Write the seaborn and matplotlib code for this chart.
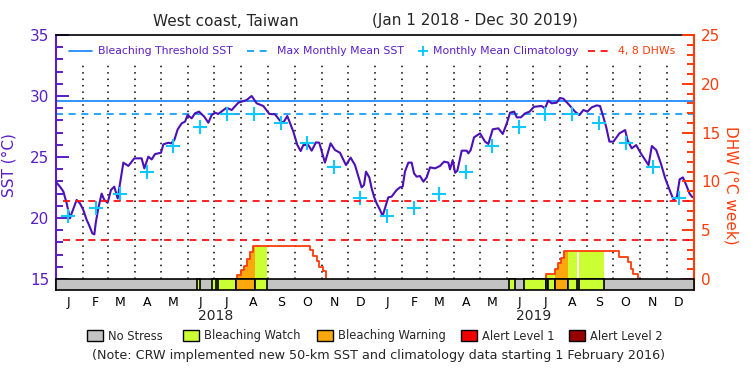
import numpy as np
import pandas as pd
import matplotlib
matplotlib.use('Agg')
import matplotlib.pyplot as plt
import seaborn as sns
from matplotlib.patches import Rectangle
from matplotlib.lines import Line2D

# Daily SST (days since 1 Jan 2018, deg C)
sst_days = [0, 4.3, 8.2, 12, 15.8, 17.7, 23.4, 27.2, 31, 34.9, 36.8, 41.4, 43.7, 45.2, 48.2, 52,
            55.1, 58.9, 62.7, 66.5, 70.4, 73, 76.9, 82.6, 89.5, 97.8, 100.9, 105.5, 109.3, 113.1,
            120, 122.7, 128.4, 131.5, 135.3, 139.1, 143.7, 147.5, 150.5, 155.1, 158.9, 163.5,
            169.6, 174.2, 178, 181.9, 185.6, 195.1, 200.9, 208.5, 218, 223.8, 229.5, 237.2, 244,
            250.5, 256.2, 260, 264.6, 271.5, 276.1, 279.9, 282.9, 288.6, 292.5, 297.4, 301.2,
            307.7, 314.2, 319.2, 324.9, 331.8, 337.1, 342.1, 349.7, 352.4, 354.7, 358.5, 361.2,
            364.2, 366.9, 370.7, 373.7, 376.4, 380.2, 384, 389.8, 393.6, 396.7, 399.3, 403.2,
            407, 409.7, 412.7, 416.5, 420.4, 424.2, 428, 433.7, 439.5, 444.1, 449, 450.9, 454,
            456.7, 459.3, 464.3, 470, 471.9, 474.6, 478.4, 485.3, 491, 494.8, 499.8, 506.3,
            511.3, 515.9, 519.7, 524.3, 527.4, 532, 537, 542, 547, 555.8, 559.6, 563.4, 567.3,
            573, 576.8, 580.6, 587.5, 594, 599, 603.6, 608.2, 613.1, 618.9, 622.7, 625.8, 629.6,
            633.4, 638, 644.9, 651.4, 654.1, 659, 664, 669.4, 678.2, 682, 687, 692.3, 697.3,
            702.3, 706.9, 710.7, 713.8, 717.6, 721.4, 725.2, 728.3]
sst_values = [22.93, 22.57, 22.17, 21.2, 19.97, 20.38, 21.48, 21.2, 20.67, 19.84, 19.56, 18.74,
              18.66, 19.56, 20.8, 22.0, 21.48, 21.25, 22.3, 22.57, 21.6, 22.8, 24.54, 24.27,
              24.89, 24.89, 24.07, 25.03, 24.8, 25.24, 25.35, 26.04, 26.17, 26.12, 26.4, 27.27,
              27.76, 27.9, 28.44, 28.17, 28.58, 28.72, 28.3, 27.81, 28.44, 28.63, 28.53, 29.04,
              28.85, 29.45, 29.67, 30.0, 29.4, 29.18, 28.53, 28.5, 27.98, 27.81, 28.36, 27.08,
              25.98, 25.49, 25.98, 25.98, 25.52, 26.2, 26.17, 24.54, 26.12, 25.57, 25.35, 24.34,
              24.95, 24.34, 22.51, 22.7, 23.8, 23.33, 22.43, 21.69, 21.2, 20.67, 20.16, 20.79,
              21.69, 21.75, 22.3, 22.51, 22.57, 23.8, 24.54, 24.54, 23.66, 23.39, 23.44, 22.98,
              23.33, 24.15, 24.07, 24.27, 24.62, 24.54, 23.99, 24.75, 23.71, 23.88, 25.52, 25.52,
              25.3, 25.57, 26.61, 26.94, 26.26, 26.07, 27.27, 27.35, 26.89, 27.76, 28.63, 28.72,
              28.25, 28.25, 28.58, 28.72, 29.12, 29.18, 28.99, 29.62, 29.4, 29.45, 29.84, 29.78,
              29.26, 28.72, 28.44, 28.85, 28.72, 29.07, 29.23, 29.18, 28.44, 27.49, 26.26, 26.26,
              26.94, 27.21, 26.39, 25.71, 25.98, 25.3, 24.34, 25.9, 25.57, 24.48, 23.25, 22.3,
              21.48, 21.75, 23.17, 23.33, 22.7, 21.99, 21.72]

# Monthly mean climatology (Jan..Dec), repeated for both years
month_letters = ['J', 'F', 'M', 'A', 'M', 'J', 'J', 'A', 'S', 'O', 'N', 'D']
clim_values = [20.19, 20.84, 21.94, 23.75, 25.93, 27.43, 28.5, 28.5, 27.76, 26.17, 24.2, 21.6]
mmm = 28.55
threshold = 29.55
dhw_levels = [4, 8]

# Degree heating weeks (step values)
dhw18_days = [206.6, 206.6, 211.2, 215, 218, 221.9, 224.9, 290.5, 294.4, 298.2, 301.3, 305.1, 309]
dhw18_values = [0, 0.41, 0.92, 1.36, 2.05, 2.8, 3.42, 2.97, 2.39, 1.84, 1.26, 0.82, 0]
dhw19_days = [560.8, 560.8, 571.1, 574.9, 578, 581.8, 644.8, 655.1, 658.1, 660.8, 666.5]
dhw19_values = [0, 0.48, 1.02, 1.61, 2.19, 2.87, 2.29, 1.78, 1.02, 0.48, 0]

# Bleaching alert status periods
seg_start = [161.2, 178.7, 184.9, 206.2, 228.0, 518.8, 536.0, 560.8, 563.5, 571.1, 585.6, 598.9]
seg_end = [164.6, 183.0, 206.2, 228.0, 241.7, 525.5, 560.8, 563.5, 571.1, 585.6, 595.9, 627.6]
seg_level = ['watch', 'watch', 'watch', 'warning', 'watch', 'watch', 'watch', 'watch', 'watch',
             'warning', 'watch', 'watch']

status_names = ['No Stress', 'Bleaching Watch', 'Bleaching Warning', 'Alert Level 1', 'Alert Level 2']
status_colors = {'none': '#c3c3c3', 'watch': '#ccff33', 'warning': '#fba80f',
                 'alert1': '#ee0000', 'alert2': '#990000'}

purple = '#5a1ec8'
orange_red = '#ff3c0a'
dash = (0, (3.9, 3.1))

sns.set_theme(style='white')
plt.rcParams['font.family'] = ['DejaVu Sans']

start = pd.Timestamp('2018-01-01')
month_starts = pd.date_range('2018-02-01', '2019-12-01', freq='MS')
month_start_days = (month_starts - start).days.values
mids = pd.date_range('2018-01-01', '2019-12-01', freq='MS') + pd.Timedelta(days=14)
mid_days = (mids - start).days.values

fig = plt.figure(figsize=(7.5, 3.75), dpi=100)
ax = fig.add_axes([56.2 / 750, 1 - 290 / 375, (694.3 - 56.2) / 750, 255 / 375])
ax2 = ax.twinx()

sst_lo, sst_hi = 14.1, 35
ax.set_xlim(0, 730.6)
ax.set_ylim(sst_lo, sst_hi)
ax2.set_ylim((sst_lo - 15) / 0.8, 25)
dhw_lo = (sst_lo - 15) / 0.8

# month grid
ax.vlines(month_start_days, 15, 32.6, colors='black', linestyles=(0, (1, 3.2)), lw=1.1, zorder=1)

# reference lines
ax.axhline(threshold, color='#1e8cff', lw=1.3, zorder=2)
ax.axhline(mmm, color='#14a0ff', lw=1.3, ls=dash, zorder=2)
for lv in dhw_levels:
    ax2.axhline(lv, color='#ff1010', lw=1.3, ls=dash, xmin=0.01, zorder=2)

# SST line and climatology
sst_df = pd.DataFrame({'day': sst_days, 'sst': sst_values})
sns.lineplot(data=sst_df, x='day', y='sst', ax=ax, color='#4b10b8', lw=1.5, zorder=4)
clim_df = pd.DataFrame({'day': mid_days, 'clim': clim_values * 2})
sns.scatterplot(data=clim_df, x='day', y='clim', ax=ax, marker='+', s=110,
                color='#10c8ff', linewidth=1.5, zorder=5)

# DHW fill by status
dhw_all_days = np.array(dhw18_days + dhw19_days)
dhw_all_vals = np.array(dhw18_values + dhw19_values)


def dhw_at(x):
    idx = np.searchsorted(dhw_all_days, x, side='right') - 1
    return np.where(idx < 0, 0, dhw_all_vals[np.clip(idx, 0, None)])


for s, e, lev in zip(seg_start, seg_end, seg_level):
    knots = dhw_all_days[(dhw_all_days > s) & (dhw_all_days < e)]
    xs = np.unique(np.concatenate([[s], knots, [e]]))
    ys = dhw_at(xs)
    ax2.fill_between(xs, 0, ys, step='post', color=status_colors[lev], lw=0, zorder=1)

for d, v in [(dhw18_days, dhw18_values), (dhw19_days, dhw19_values)]:
    ax2.step(d, v, where='post', color=orange_red, lw=1.3, zorder=3)

# status bar
ax2.add_patch(Rectangle((0, dhw_lo), 730.6, -dhw_lo, facecolor=status_colors['none'],
                        edgecolor='black', lw=1.2, zorder=6, clip_on=False))
for s, e, lev in zip(seg_start, seg_end, seg_level):
    ax2.add_patch(Rectangle((s, dhw_lo), e - s, -dhw_lo, facecolor=status_colors[lev],
                            edgecolor='black', lw=1.2, zorder=7))

# axes styling
ax.set_xticks(mid_days, month_letters * 2)
ax.tick_params(axis='x', length=0, pad=4, labelsize=9, colors='black')
ax.set_yticks([15, 20, 25, 30, 35])
ax.set_yticks(range(15, 36), minor=True)
ax.tick_params(axis='y', which='both', direction='in', colors=purple, width=1.4, labelsize=11, pad=5)
ax.tick_params(axis='y', which='major', length=9)
ax.tick_params(axis='y', which='minor', length=5)
ax.set_xlabel('')
ax.set_ylabel('SST (°C)', color=purple, fontsize=11)
ax.yaxis.set_label_coords(-0.062, 0.49)

ax2.set_yticks([0, 5, 10, 15, 20, 25])
ax2.set_yticks(range(0, 26), minor=True)
ax2.tick_params(axis='y', which='both', direction='in', colors=orange_red, width=1.4, labelsize=11, pad=5)
ax2.tick_params(axis='y', which='major', length=9)
ax2.tick_params(axis='y', which='minor', length=5)
ax2.set_ylabel('DHW (°C week)', color=orange_red, fontsize=11, rotation=270, va='bottom')
ax2.yaxis.set_label_coords(1.045, 0.41)

for a in (ax, ax2):
    for sp in a.spines.values():
        sp.set_visible(False)
ax.spines['left'].set_visible(True)
ax.spines['left'].set_color(purple)
ax.spines['left'].set_linewidth(1.5)
ax.spines['top'].set_visible(True)
ax.spines['top'].set_color('black')
ax.spines['top'].set_linewidth(1.2)
ax2.spines['right'].set_visible(True)
ax2.spines['right'].set_color(orange_red)
ax2.spines['right'].set_linewidth(1.5)

# year labels
for yr, day in [('2018', 182), ('2019', 547)]:
    ax.text(day, -0.1, yr, transform=ax.get_xaxis_transform(), ha='center', va='center', fontsize=10)


def fx(x):
    return x / 750


def fy(y):
    return 1 - y / 375


# title
fig.text(fx(226), fy(21), 'West coast, Taiwan', ha='center', va='center', fontsize=11)
fig.text(fx(475), fy(21), '(Jan 1 2018 - Dec 30 2019)', ha='center', va='center', fontsize=11)

# top legend
ly = fy(51)
fs_leg = 7.8
fig.add_artist(Line2D([fx(69), fx(92)], [ly, ly], color='#1e8cff', lw=1.3))
fig.text(fx(98), ly, 'Bleaching Threshold SST', color=purple, fontsize=fs_leg, va='center')
fig.add_artist(Line2D([fx(247), fx(268)], [ly, ly], color='#14a0ff', lw=1.3, ls=dash))
fig.text(fx(277), ly, 'Max Monthly Mean SST', color=purple, fontsize=fs_leg, va='center')
fig.add_artist(Line2D([fx(423)], [ly], color='#10c8ff', marker='+', ms=7, mew=1.4, ls='none'))
fig.text(fx(433), ly, 'Monthly Mean Climatology', color=purple, fontsize=fs_leg, va='center')
fig.add_artist(Line2D([fx(588), fx(612)], [ly, ly], color='#ff1010', lw=1.3, ls=dash))
fig.text(fx(618), ly, '4, 8 DHWs', color=orange_red, fontsize=fs_leg, va='center')

# bottom legend
box_x = [87, 183, 317, 461, 569]
for bx, name, key in zip(box_x, status_names, ['none', 'watch', 'warning', 'alert1', 'alert2']):
    fig.add_artist(Rectangle((fx(bx), fy(341)), 16 / 750, 11 / 375, transform=fig.transFigure,
                             facecolor=status_colors[key], edgecolor='black', lw=1))
    fig.text(fx(bx + 21), fy(336), name, fontsize=8.3, va='center')

fig.text(fx(378), fy(355), '(Note: CRW implemented new 50-km SST and climatology data starting 1 February 2016)',
         ha='center', va='center', fontsize=9.2)

fig.savefig('out.png', dpi=100, facecolor='white')
